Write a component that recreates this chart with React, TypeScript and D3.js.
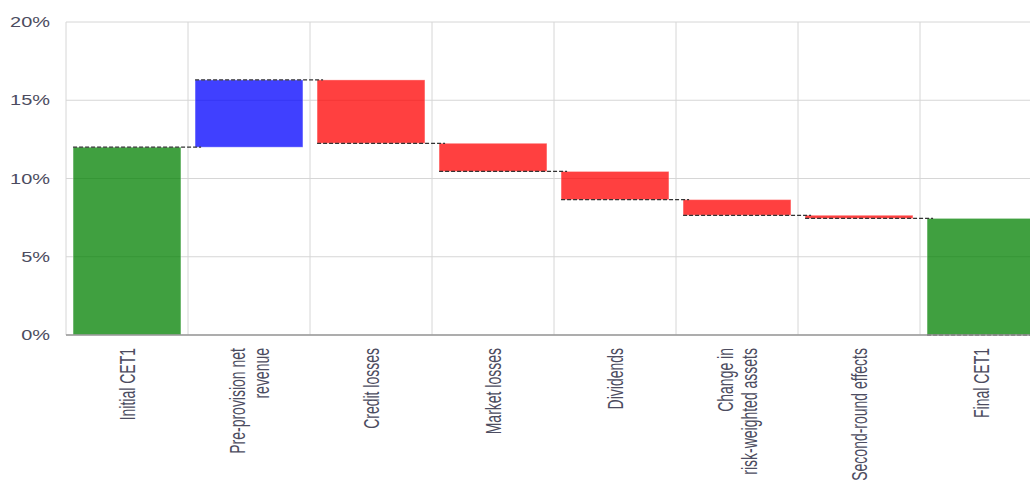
import React from "react";
import * as d3 from "d3";

const categories = [
  "Initial CET1",
  "Pre-provision net revenue",
  "Credit losses",
  "Market losses",
  "Dividends",
  "Change in risk-weighted assets",
  "Second-round effects",
  "Final CET1",
];
const labelLines = [
  ["Initial CET1"],
  ["Pre-provision net", "revenue"],
  ["Credit losses"],
  ["Market losses"],
  ["Dividends"],
  ["Change in", "risk-weighted assets"],
  ["Second-round effects"],
  ["Final CET1"],
];
const values = [12.0, 4.3, -4.05, -1.8, -1.8, -1.0, -0.2, 7.45];
const kinds = ["total", "delta", "delta", "delta", "delta", "delta", "delta", "total"];
const yTicks = [0, 5, 10, 15, 20];

const W = 1030;
const H = 481;
const left = 66;
const right = 1042;
const top = 22;
const bottom = 335;

const colors = {
  total: "rgba(0,128,0,0.75)",
  up: "rgba(0,0,255,0.75)",
  down: "rgba(255,0,0,0.75)",
};
const textColor = "#4c4c60";

export default function App() {
  const x = d3.scaleBand<string>().domain(categories).range([left, right]).padding(0);
  const y = d3.scaleLinear().domain([0, 20]).range([bottom, top]);
  const bw = x.bandwidth();
  const inset = bw * 0.058;
  const barW = bw - 2 * inset;

  let running = 0;
  const bars = categories.map((c, i) => {
    let y0: number, y1: number, fill: string, end: number;
    if (kinds[i] === "total") {
      y0 = 0;
      y1 = values[i];
      running = values[i];
      end = values[i];
      fill = colors.total;
    } else {
      const start = running;
      running = running + values[i];
      y0 = start;
      y1 = running;
      end = running;
      fill = values[i] >= 0 ? colors.up : colors.down;
    }
    return { c, i, y0, y1, fill, end };
  });

  return (
    <svg width={W} height={H} style={{ display: "block", overflow: "hidden" }}>
      <style>{`body{margin:0;overflow:hidden}`}</style>
      {yTicks.map((t) => (
        <line key={"h" + t} x1={left} x2={right} y1={y(t)} y2={y(t)} stroke="#d6d6d6" strokeWidth={1} />
      ))}
      {categories.map((c) => (
        <line key={"v" + c} x1={x(c)!} x2={x(c)!} y1={top} y2={bottom} stroke="#d6d6d6" strokeWidth={1} />
      ))}
      <line x1={right} x2={right} y1={top} y2={bottom} stroke="#d6d6d6" />
      {bars.map((b) => (
        <rect
          key={"b" + b.i}
          x={x(b.c)! + inset}
          width={barW}
          y={y(Math.max(b.y0, b.y1))}
          height={Math.abs(y(b.y0) - y(b.y1))}
          fill={b.fill}
          stroke="rgba(255,255,255,0.35)"
          strokeWidth={1}
        />
      ))}
      {bars.map((b, i) => {
        const x0 = x(b.c)! + inset;
        const x1 = i < bars.length - 1 ? x(categories[i + 1])! + inset + 6 : right;
        const yy = i < bars.length - 1 ? y(b.end) : y(0);
        return (
          <line
            key={"c" + i}
            x1={x0}
            x2={x1}
            y1={yy}
            y2={yy}
            stroke="#333"
            strokeWidth={1.3}
            strokeDasharray="4,2"
          />
        );
      })}
      <line x1={left} x2={right} y1={bottom} y2={bottom} stroke="#999" strokeWidth={1.5} />
      {yTicks.map((t) => (
        <text
          key={"t" + t}
          transform={`translate(50,${y(t)}) scale(1.33,1)`}
          textAnchor="end"
          dominantBaseline="central"
          fontFamily="Liberation Sans, Arial, sans-serif"
          fontSize={15}
          fill={textColor}
        >
          {t + "%"}
        </text>
      ))}
      {categories.map((c, i) => {
        const cx = x(c)! + bw / 2;
        const lines = labelLines[i];
        const n = lines.length;
        return (
          <text
            key={"x" + c}
            transform={`translate(${cx},348) scale(1.55,1) rotate(-90)`}
            textAnchor="end"
            fontFamily="Liberation Sans, Arial, sans-serif"
            fontSize={14}
            fill={textColor}
          >
            {lines.map((l, j) => (
              <tspan key={j} x={0} y={(j - (n - 1) / 2) * 15.5} dominantBaseline="central">
                {l}
              </tspan>
            ))}
          </text>
        );
      })}
    </svg>
  );
}
